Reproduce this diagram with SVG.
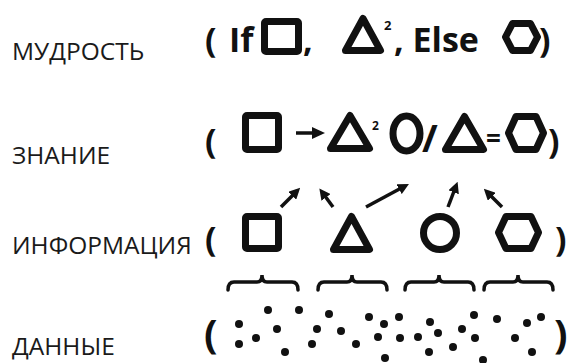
<svg xmlns="http://www.w3.org/2000/svg" width="573" height="363" viewBox="0 0 573 363">
<defs>
<style>
.lbl{font-family:"Open Sans","Liberation Sans",sans-serif;font-size:24.5px;fill:#1a1a1a}
.b{font-family:"Open Sans","Liberation Sans",sans-serif;font-weight:700;font-size:34px;fill:#111}
.sup{font-family:"Open Sans","Liberation Sans",sans-serif;font-weight:700;font-size:13px;fill:#111}
.sh{fill:none;stroke:#111;stroke-width:7;stroke-linejoin:round}
.ar{fill:none;stroke:#111;stroke-width:3.5;marker-end:url(#ah)}
.br{fill:none;stroke:#111;stroke-width:3.5;stroke-linecap:round}
.dot{fill:#111}
</style>
<marker id="ah" viewBox="0 0 10 10" refX="6" refY="5" markerWidth="3.2" markerHeight="3.2" orient="auto">
<path d="M0,0 L10,5 L0,10 z" fill="#111"/>
</marker>
</defs>
<rect width="573" height="363" fill="#fff"/>

<g id="wisdom">
<text class="lbl" x="12" y="60">МУДРОСТЬ</text>
<text class="b" x="205" y="52">(</text>
<text class="b" x="229" y="52">If</text>
<rect class="sh" x="264.5" y="21.5" width="34" height="30" rx="1.5"/>
<text class="b" x="303" y="52">,</text>
<path class="sh" d="M363,18.5 L380.5,50.5 L345.5,50.5 Z"/>
<text class="sup" x="384" y="30">2</text>
<text class="b" x="394" y="52">, Else</text>
<path class="sh" d="M505.5,37 L512.5,23.5 L530.5,23.5 L537.5,37 L530.5,50.5 L512.5,50.5 Z"/>
<text class="b" x="539" y="52">)</text>
</g>

<g id="knowledge">
<text class="lbl" x="12" y="164">ЗНАНИЕ</text>
<text class="b" x="205" y="153">(</text>
<rect class="sh" x="245.5" y="115.5" width="33" height="34" rx="1.5"/>
<path d="M296,133 L314,133" stroke="#111" stroke-width="3.5" fill="none"/>
<path d="M312,127 L325,133 L312,139 Z" fill="#111"/>
<path class="sh" d="M350,115.5 L369.5,148.5 L330.5,148.5 Z"/>
<text class="sup" x="372" y="130" style="font-size:12px">2</text>
<ellipse class="sh" cx="406.5" cy="133.5" rx="13.5" ry="17.5"/>
<text class="b" x="422" y="152" style="font-size:38px">/</text>
<path class="sh" d="M464.5,116.5 L483.5,149.5 L445.5,149.5 Z"/>
<text class="b" x="486" y="148" style="font-size:26px">=</text>
<path class="sh" d="M508.5,133 L516,116.5 L536,116.5 L543.5,133 L536,149.5 L516,149.5 Z"/>
<text class="b" x="548" y="153">)</text>
</g>

<g id="information">
<text class="lbl" x="12" y="254">ИНФОРМАЦИЯ</text>
<text class="b" x="205" y="251">(</text>
<rect class="sh" x="245.5" y="216.5" width="33" height="32" rx="1.5"/>
<path class="sh" d="M351.5,216.5 L369.5,249.5 L333.5,249.5 Z"/>
<circle class="sh" cx="440" cy="233" r="16.5"/>
<path class="sh" d="M498.5,232.5 L506,216.5 L531,216.5 L538.5,232.5 L531,248.5 L506,248.5 Z"/>
<text class="b" x="555" y="251">)</text>
</g>

<g id="connectors">
<line class="ar" x1="281" y1="207" x2="297" y2="191"/>
<line class="ar" x1="333" y1="207" x2="322" y2="192"/>
<line class="ar" x1="366" y1="207" x2="405" y2="186"/>
<line class="ar" x1="448" y1="207" x2="456" y2="186"/>
<line class="ar" x1="502" y1="207" x2="487" y2="192"/>
</g>

<g id="braces">
<path class="br" d="M228,290 Q228,282 234,282 L257,282 Q262,282 262,275 Q262,282 267,282 L292,282 Q298,282 298,290"/>
<path class="br" d="M318,290 Q318,282 324,282 L347,282 Q352,282 352,275 Q352,282 357,282 L381,282 Q387,282 387,290"/>
<path class="br" d="M405,290 Q405,282 411,282 L434,282 Q439,282 439,275 Q439,282 444,282 L468,282 Q474,282 474,290"/>
<path class="br" d="M484,290 Q484,282 490,282 L513,282 Q518,282 518,275 Q518,282 523,282 L547,282 Q553,282 553,290"/>
</g>

<g id="data">
<text class="lbl" x="12" y="355">ДАННЫЕ</text>
<text class="b" x="204" y="348" style="font-size:40px">(</text>
<g class="dot">
<circle cx="239" cy="324" r="4"/><circle cx="239" cy="344" r="4"/><circle cx="256" cy="338" r="4"/>
<circle cx="268" cy="310" r="4"/><circle cx="277" cy="329" r="4"/><circle cx="285" cy="352" r="4"/>
<circle cx="299" cy="310" r="4"/><circle cx="317" cy="329" r="4"/><circle cx="312" cy="344" r="4"/>
<circle cx="329" cy="314" r="4"/><circle cx="341" cy="331" r="4"/><circle cx="356" cy="344" r="4"/>
<circle cx="369" cy="317" r="4"/><circle cx="384" cy="324" r="4"/><circle cx="378" cy="337" r="4"/>
<circle cx="399" cy="317" r="4"/><circle cx="400" cy="338" r="4"/><circle cx="385" cy="358" r="4"/>
<circle cx="418" cy="337" r="4"/><circle cx="430" cy="322" r="4"/><circle cx="438" cy="333" r="4"/>
<circle cx="429" cy="352" r="4"/><circle cx="453" cy="347" r="4"/><circle cx="462" cy="329" r="4"/>
<circle cx="474" cy="315" r="4"/><circle cx="475" cy="338" r="4"/><circle cx="483" cy="360" r="4"/>
<circle cx="497" cy="319" r="4"/><circle cx="515" cy="338" r="4"/><circle cx="527" cy="323" r="4"/>
<circle cx="541" cy="317" r="4"/><circle cx="532" cy="352" r="4"/>
</g>
<text class="b" x="554" y="348" style="font-size:40px">)</text>
</g>
</svg>
